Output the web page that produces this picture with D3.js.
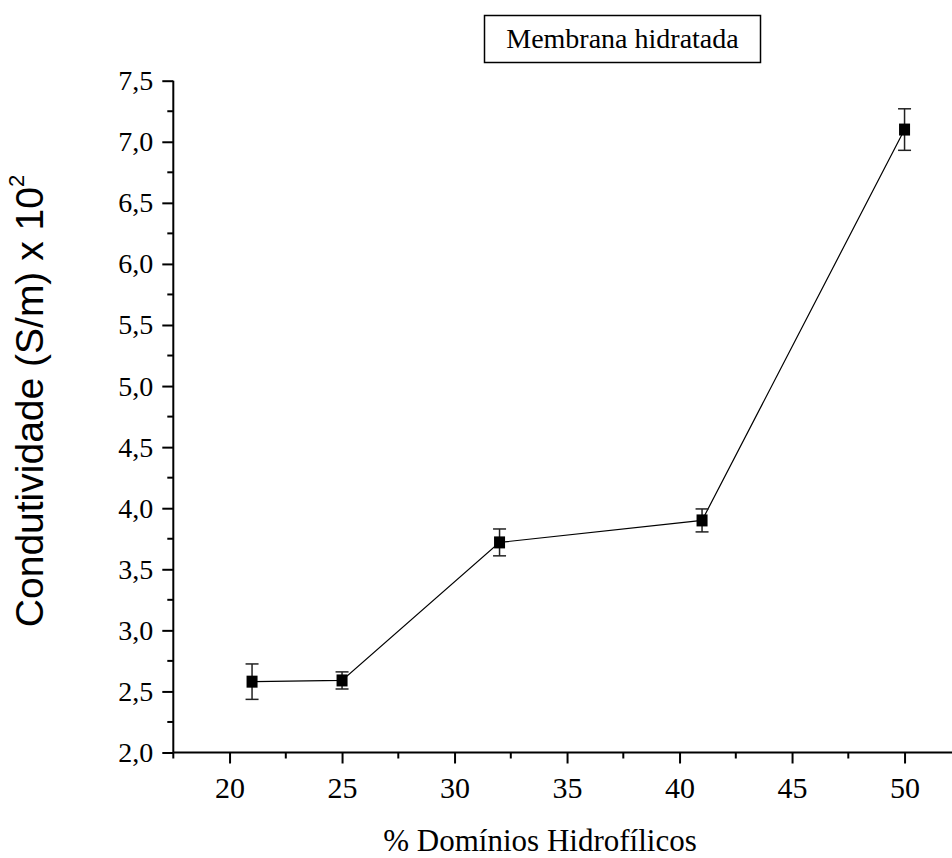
<!DOCTYPE html>
<html><head><meta charset="utf-8">
<script src="https://cdn.jsdelivr.net/npm/d3@7"></script>
<style>body{margin:0;background:#fff}svg{display:block}</style>
</head><body>
<script>
const xValues = [21, 25, 32, 41, 50];
const yValues = [2.58, 2.59, 3.72, 3.90, 7.10];
const yErrors = [0.145, 0.07, 0.11, 0.094, 0.17];
const xTicks = [20, 25, 30, 35, 40, 45, 50];
const yTicks = [2.0, 2.5, 3.0, 3.5, 4.0, 4.5, 5.0, 5.5, 6.0, 6.5, 7.0, 7.5];
const titleText = "Membrana hidratada";
const xTitle = "% Domínios Hidrofílicos";
const yTitle = "Condutividade (S/m) x 10";

const W = 952, H = 858;
const svg = d3.select("body").append("svg").attr("width", W).attr("height", H);
const x = d3.scaleLinear().domain([17.5, 52.5]).range([173.3, 173.3 + 35 * 22.5]);
const y = d3.scaleLinear().domain([2.0, 7.5]).range([752.5, 80.7]);
const serif = "'Liberation Serif','Times New Roman',serif";
const fmt = d => d3.format(".1f")(d).replace(".", ",");

// x axis
const gx = svg.append("g").attr("transform", `translate(0,${y(2.0)})`);
gx.call(d3.axisBottom(x).tickValues(xTicks).tickSize(11).tickPadding(13).tickFormat(d3.format("d")));
const xMinor = d3.range(17.5, 53, 5);
gx.selectAll(".minor").data(xMinor).enter().append("line").attr("class", "minor")
  .attr("x1", d => x(d)).attr("x2", d => x(d)).attr("y1", 0).attr("y2", 6);
gx.selectAll("text").attr("font-family", serif).attr("font-size", 30).attr("fill", "#000");

// y axis
const gy = svg.append("g").attr("transform", `translate(${x(17.5)},0)`);
gy.call(d3.axisLeft(y).tickValues(yTicks).tickSize(11).tickPadding(9).tickFormat(fmt));
const yMinor = d3.range(2.25, 7.5, 0.5);
gy.selectAll(".minor").data(yMinor).enter().append("line").attr("class", "minor")
  .attr("y1", d => y(d)).attr("y2", d => y(d)).attr("x1", 0).attr("x2", -6);
gy.selectAll("text").attr("font-family", serif).attr("font-size", 28).attr("fill", "#000");

[gx, gy].forEach(g => {
  g.selectAll("path.domain").attr("stroke", "#000").attr("stroke-width", 2);
  g.selectAll("line").attr("stroke", "#000").attr("stroke-width", 2);
});
gx.select("path.domain").attr("d", `M${x(17.5)},0H${W + 20}`);
gy.select("path.domain").attr("d", `M0,${y(7.5)}V${y(2.0)}`);

// data
const pts = xValues.map((v, i) => ({x: v, y: yValues[i], e: yErrors[i]}));
svg.append("path").datum(pts)
  .attr("d", d3.line().x(d => x(d.x)).y(d => y(d.y)))
  .attr("fill", "none").attr("stroke", "#000").attr("stroke-width", 1.2);

const eb = svg.append("g").selectAll("g").data(pts).enter().append("g");
eb.append("line").attr("x1", d => x(d.x)).attr("x2", d => x(d.x))
  .attr("y1", d => y(d.y + d.e)).attr("y2", d => y(d.y - d.e))
  .attr("stroke", "#222").attr("stroke-width", 1.5);
eb.append("line").attr("x1", d => x(d.x) - 6.5).attr("x2", d => x(d.x) + 6.5)
  .attr("y1", d => y(d.y + d.e)).attr("y2", d => y(d.y + d.e))
  .attr("stroke", "#222").attr("stroke-width", 1.5);
eb.append("line").attr("x1", d => x(d.x) - 6.5).attr("x2", d => x(d.x) + 6.5)
  .attr("y1", d => y(d.y - d.e)).attr("y2", d => y(d.y - d.e))
  .attr("stroke", "#222").attr("stroke-width", 1.5);
eb.append("rect").attr("x", d => x(d.x) - 5.5).attr("y", d => y(d.y) - 6)
  .attr("width", 11).attr("height", 12).attr("fill", "#000");

// title box
svg.append("rect").attr("x", 484.5).attr("y", 15.5).attr("width", 276).attr("height", 47)
  .attr("fill", "#fff").attr("stroke", "#000").attr("stroke-width", 1.5);
svg.append("text").attr("x", 622.5).attr("y", 48).attr("text-anchor", "middle")
  .attr("font-family", serif).attr("font-size", 28).text(titleText);

// x title
svg.append("text").attr("x", 540).attr("y", 851).attr("text-anchor", "middle")
  .attr("font-family", serif).attr("font-size", 31).text(xTitle);

// y title
const yt = svg.append("text").attr("transform", "translate(43,401) rotate(-90)")
  .attr("text-anchor", "middle").attr("font-family", "'Liberation Sans',Arial,sans-serif")
  .attr("font-size", 39);
yt.append("tspan").text(yTitle);
yt.append("tspan").attr("font-size", 22).attr("dy", -19).text("2");
</script>
</body></html>
